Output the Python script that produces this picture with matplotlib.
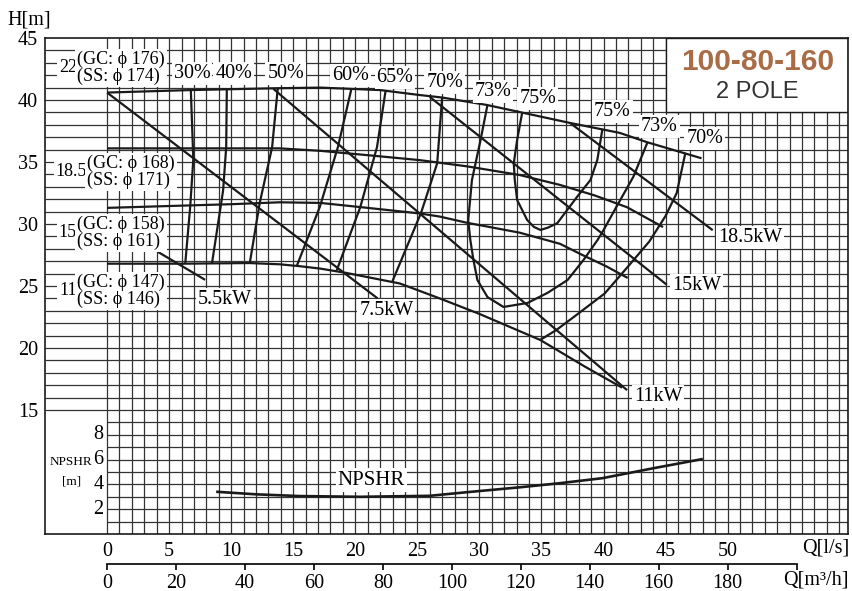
import numpy as np
import matplotlib
matplotlib.use("Agg")
import matplotlib.pyplot as plt
from matplotlib.patches import Rectangle

plt.rcParams['font.family'] = ['Liberation Serif', 'DejaVu Serif']

# head curves, Q in l/s, H in m
q_d176 = [0, 6.7, 13.7, 17.2, 22.0, 25.2, 27.0, 30.6, 37.3, 41.3, 43.5, 47.9]
h_d176 = [40.6, 40.8, 40.95, 41.0, 40.8, 40.4, 40.2, 39.6, 38.15, 37.35, 36.6, 35.3]
q_d168 = [0, 6.7, 13.9, 17.2, 21.0, 25.2, 29.0, 33.25, 36.5, 39.3, 41.9, 44.8]
h_d168 = [36.1, 36.1, 36.1, 35.9, 35.55, 35.15, 34.65, 33.95, 33.15, 32.3, 31.35, 29.75]
q_d158 = [0, 5.0, 10.1, 13.9, 17.2, 21.0, 25.2, 26.8, 29.0, 33.25, 36.5, 38.3, 40.2, 41.95]
h_d158 = [31.3, 31.45, 31.6, 31.75, 31.7, 31.3, 30.85, 30.6, 30.1, 29.3, 28.4, 27.5, 26.6, 25.65]
q_d147 = [0, 6.1, 11.5, 13.9, 15.5, 17.2, 19.3, 23.6, 26.8, 30.0, 34.9, 38.5, 41.5]
h_d147 = [26.8, 26.8, 26.85, 26.75, 26.6, 26.4, 26.05, 25.2, 24.0, 22.75, 20.65, 18.5, 16.8]

# motor power lines
p55_q, p55_h = [4.1, 7.9], [27.75, 25.5]
p75_q, p75_h = [0, 21.8], [40.6, 24.0]
p11_q, p11_h = [13.4, 41.9], [40.9, 16.6]
p15_q, p15_h = [26.0, 45.1], [40.25, 25.1]
p185_q, p185_h = [37.3, 48.8], [38.15, 29.5]

# efficiency curves
e30_q, e30_h = [6.75, 6.95, 6.7, 6.3], [40.8, 35.2, 31.4, 26.8]
e40_q, e40_h = [9.65, 9.6, 9.35, 8.45], [40.9, 36.2, 32.7, 26.8]
e50_q, e50_h = [13.75, 13.3, 12.3, 11.5], [40.9, 36.2, 31.7, 26.85]
e60_q, e60_h = [19.7, 18.6, 17.15, 15.3], [40.95, 36.2, 31.4, 26.65]
e65_q, e65_h = [22.45, 21.75, 20.4, 18.5], [40.8, 36.2, 31.35, 26.25]
e70a_q, e70a_h = [27.0, 26.6, 25.3, 23.0], [40.2, 34.9, 30.9, 25.4]
e73_q = [30.65, 30.1, 29.4, 29.1, 29.27, 29.52, 29.84, 30.65, 31.94, 33.87, 35.48,
         37.1, 38.39, 39.52, 40.0, 41.05, 42.4, 43.55]
e73_h = [39.6, 36.8, 33.55, 30.3, 28.71, 27.1, 25.48, 24.11, 23.31, 23.63, 24.44,
         25.48, 27.1, 28.71, 29.5, 31.4, 33.8, 36.6]
e75_q = [33.44, 33.04, 32.77, 32.85, 33.04, 33.85, 34.4, 34.92, 35.5, 36.27, 37.88,
         38.95, 39.5, 39.9]
e75_h = [38.93, 36.77, 34.9, 33.55, 31.94, 30.32, 29.76, 29.52, 29.7, 30.06, 32.2,
         33.55, 35.16, 37.58]
e70b_q = [46.6, 45.9, 45.0, 43.7, 42.0, 40.1, 38.0, 36.2, 34.9]
e70b_h = [35.75, 32.5, 30.65, 28.6, 26.6, 24.4, 22.8, 21.45, 20.65]

# NPSHR (own scale, 0 sits at H=5 on the main axis)
npsh_q = [8.9, 12.0, 15.5, 20.4, 26.0, 29.3, 33.3, 36.5, 39.9, 44.0, 47.9]
npsh_m = [3.4, 3.2, 3.06, 3.0, 3.08, 3.4, 3.77, 4.1, 4.5, 5.3, 6.03]
NPSH_BASE = 5

eff_labels = ["30%", "40%", "50%", "60%", "65%", "70%", "73%", "75%", "75%", "73%", "70%"]
eff_lab_q = [6.84, 10.2, 14.4, 19.6, 23.2, 27.2, 31.1, 34.7, 40.7, 44.5, 48.15]
eff_lab_h = [42.1, 42.1, 42.1, 42.0, 41.85, 41.4, 40.7, 40.15, 39.05, 37.9, 36.9]

kw_labels = ["5.5kW", "7.5kW", "11kW", "15kW", "18.5kW"]
kw_lab_q = [9.5, 22.5, 44.4, 47.5, 51.8]
kw_lab_h = [23.95, 23.0, 16.05, 25.0, 28.9]

dia_num = ["22", "18.5", "15", "11"]
dia_gc = ["(GC: ϕ 176)", "(GC: ϕ 168)", "(GC: ϕ 158)", "(GC: ϕ 147)"]
dia_ss = ["(SS: ϕ 174)", "(SS: ϕ 171)", "(SS: ϕ 161)", "(SS: ϕ 146)"]
dia_h = [42.6, 34.2, 29.3, 24.6]
dia_q = [-2.42, -1.61, -2.42, -2.42]

q_ticks = list(range(0, 55, 5))
m3h_ticks = list(range(0, 201, 20))
h_ticks = list(range(15, 50, 5))
npsh_ticks = [2, 4, 6, 8]

XMIN, XMAX = -5, 59.7
INK = '#1a1a1a'

fig = plt.figure(figsize=(8.52, 5.91), dpi=100)
ax = fig.add_axes([45/852, 1-534/591, 803/852, 496/591])
ax.set_xlim(XMIN, XMAX)
ax.set_ylim(5, 45)

# grid
ax.vlines(range(0, 60), 5, 45, color='#333333', lw=0.9, zorder=1)
ax.hlines(range(15, 45), XMIN, XMAX, color='#333333', lw=0.9, zorder=1)
ax.hlines(range(6, 15), 0, XMAX, color='#333333', lw=0.9, zorder=1)

lw = 1.6
for q, h in [(q_d176, h_d176), (q_d168, h_d168), (q_d158, h_d158), (q_d147, h_d147),
             (p55_q, p55_h), (p75_q, p75_h), (p11_q, p11_h), (p15_q, p15_h), (p185_q, p185_h),
             (e30_q, e30_h), (e40_q, e40_h), (e50_q, e50_h), (e60_q, e60_h), (e65_q, e65_h),
             (e70a_q, e70a_h), (e73_q, e73_h), (e75_q, e75_h), (e70b_q, e70b_h)]:
    ax.plot(q, h, color=INK, lw=lw, zorder=3, solid_capstyle='butt', solid_joinstyle='round')

ax.plot(npsh_q, np.array(npsh_m) + NPSH_BASE, color=INK, lw=lw + 0.3, zorder=3)

box = dict(facecolor='white', edgecolor='none', pad=1.5)
for t, q, h in zip(eff_labels, eff_lab_q, eff_lab_h):
    ax.text(q, h, t, fontsize=14.5, ha='center', va='center', bbox=box, zorder=5)
for t, q, h in zip(kw_labels, kw_lab_q, kw_lab_h):
    ax.text(q, h, t, fontsize=14.5, ha='center', va='center', bbox=box, zorder=5)
for n, gc, ss, h, q in zip(dia_num, dia_gc, dia_ss, dia_h, dia_q):
    ax.text(q, h, n, fontsize=13, ha='right', va='center', bbox=box, zorder=5)
    ax.text(q, h, gc + "\n" + ss, fontsize=13, ha='left', va='center',
            linespacing=0.95, bbox=box, zorder=5)

ax.text(21.3, 9.35, "NPSHR", fontsize=15, ha='center', va='center', bbox=box, zorder=5)
ax.text(-2.9, 10.8, "NPSHR", fontsize=9.5, ha='center', va='center')
ax.text(-2.9, 9.2, "[m]", fontsize=9.5, ha='center', va='center')
for n in npsh_ticks:
    ax.text(-0.3, n + NPSH_BASE, str(n), fontsize=14.5, ha='right', va='center')

# model box
ax.add_patch(Rectangle((45, 39), XMAX - 45, 6, facecolor='white', edgecolor=INK, lw=1.0, zorder=4))
ax.text(52.45, 43.05, "100-80-160", fontsize=21.5, fontweight='bold', color='#A96C45',
        family='Liberation Sans', ha='center', va='center', zorder=6)
ax.text(52.4, 40.65, "2 POLE", fontsize=17, color='#333333',
        family='Liberation Sans', ha='center', va='center', zorder=6)

ax.set_xticks(q_ticks)
ax.set_xticklabels([str(v) for v in q_ticks])
ax.set_yticks(h_ticks)
ax.set_yticklabels([str(v) for v in h_ticks])
ax.tick_params(axis='x', length=0, pad=6, labelsize=14.5)
ax.tick_params(axis='y', length=0, pad=5, labelsize=14.5)
for s in ax.spines.values():
    s.set_linewidth(1.2)
    s.set_color(INK)
    s.set_zorder(6)

# m3/h scale
ax2 = fig.add_axes([45/852, 1-564/591, 803/852, 0.0001])
ax2.set_xlim(XMIN * 3.6, XMAX * 3.6)
ax2.patch.set_visible(False)
for k in ['left', 'right', 'top']:
    ax2.spines[k].set_visible(False)
ax2.spines['bottom'].set_bounds(0, 200)
ax2.spines['bottom'].set_linewidth(1.2)
ax2.set_yticks([])
ax2.set_xticks(m3h_ticks)
ax2.set_xticklabels([str(v) for v in m3h_ticks[:-1]] + [''])
ax2.tick_params(axis='x', direction='out', length=4, width=1.2, pad=3, labelsize=14.5)

fig.text(29/852, 1-20/591, "H[m]", fontsize=14.5, ha='center', va='center')
fig.text(826/852, 1-548/591, "Q[l/s]", fontsize=14.5, ha='center', va='center')
fig.text(816/852, 1-580/591, "Q[m³/h]", fontsize=14.5, ha='center', va='center')

fig.savefig("out.png", dpi=100)
